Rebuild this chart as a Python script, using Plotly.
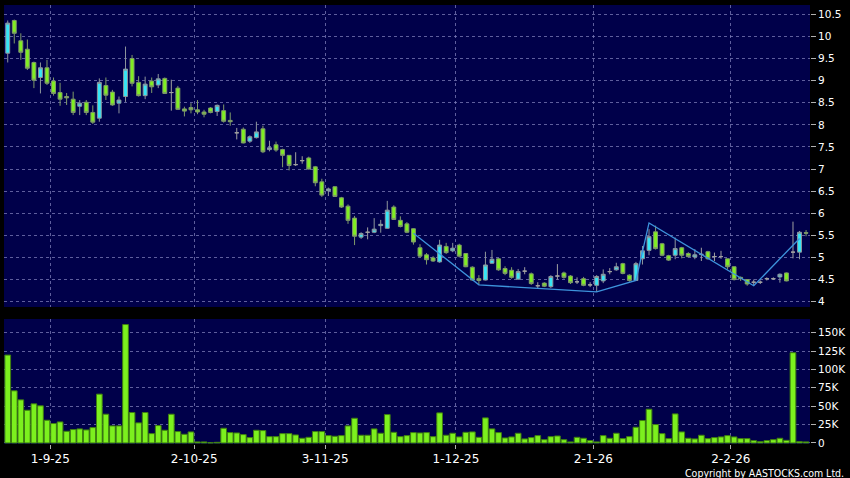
import plotly.graph_objects as go

# ---------------- data ----------------
opens = [9.62, 10.36, 9.90, 9.71, 9.41, 9.07, 9.29, 8.99, 8.73, 8.64,
         8.58, 8.42, 8.51, 8.28, 8.15, 8.89, 8.74, 8.49, 8.64, 9.50,
         8.96, 8.66, 8.99, 8.90, 9.05, 8.73, 8.83, 8.36, 8.39, 8.34,
         8.29, 8.38, 8.30, 8.32, 8.10, 7.82, 7.90, 7.63, 7.71, 7.91,
         7.44, 7.55, 7.44, 7.31, 7.10, 7.19, 7.25, 7.05, 6.71, 6.51,
         6.60, 6.35, 6.16, 5.89, 5.46, 5.57, 5.57, 5.72, 5.66, 6.14,
         5.84, 5.76, 5.65, 5.22, 5.06, 4.99, 4.90, 5.25, 5.15, 5.28,
         5.09, 4.78, 4.52, 4.49, 4.87, 4.97, 4.75, 4.71, 4.51, 4.69,
         4.63, 4.36, 4.42, 4.34, 4.58, 4.65, 4.58, 4.45, 4.52, 4.38,
         4.37, 4.47, 4.68, 4.72, 4.86, 4.60, 4.48, 4.97, 5.16, 5.58,
         5.31, 5.04, 5.05, 5.22, 5.09, 5.01, 5.07, 5.13, 5.02, 5.02,
         4.97, 4.79, 4.55, 4.50, 4.44, 4.44, 4.52, 4.52, 4.56, 4.65,
         5.12, 5.12, 5.56]
highs = [10.36, 10.38, 10.07, 9.93, 9.43, 9.41, 9.47, 9.07, 8.95, 8.72,
         8.75, 8.56, 8.56, 8.44, 9.05, 9.07, 8.79, 8.64, 9.77, 9.58,
         9.10, 9.09, 9.07, 9.15, 9.07, 9.02, 8.88, 8.41, 8.49, 8.56,
         8.34, 8.40, 8.46, 8.46, 8.28, 7.93, 7.94, 7.76, 8.07, 7.98,
         7.64, 7.62, 7.46, 7.31, 7.38, 7.29, 7.28, 7.07, 6.78, 6.58,
         6.61, 6.37, 6.20, 5.94, 5.57, 5.68, 5.89, 5.85, 6.28, 6.18,
         5.93, 5.80, 5.66, 5.30, 5.10, 5.03, 5.40, 5.33, 5.33, 5.31,
         5.09, 4.80, 4.60, 5.13, 5.17, 4.99, 4.80, 4.78, 4.74, 4.78,
         4.66, 4.44, 4.44, 4.60, 4.85, 4.68, 4.60, 4.55, 4.56, 4.44,
         4.60, 4.73, 4.76, 4.88, 4.88, 4.62, 4.90, 5.26, 5.64, 5.72,
         5.33, 5.06, 5.45, 5.24, 5.12, 5.19, 5.22, 5.15, 5.11, 5.15,
         4.97, 4.80, 4.57, 4.50, 4.50, 4.48, 4.55, 4.55, 4.64, 4.66,
         5.81, 5.60, 5.62]
lows = [9.41, 9.84, 9.47, 9.24, 8.83, 8.71, 8.90, 8.66, 8.43, 8.45,
        8.22, 8.22, 8.22, 8.02, 8.07, 8.56, 8.43, 8.26, 8.52, 8.87,
        8.64, 8.58, 8.72, 8.83, 8.70, 8.32, 8.34, 8.19, 8.26, 8.24,
        8.17, 8.26, 8.20, 8.05, 7.98, 7.67, 7.58, 7.59, 7.69, 7.36,
        7.40, 7.39, 7.04, 6.97, 7.07, 7.12, 6.99, 6.61, 6.37, 6.39,
        6.37, 6.12, 5.76, 5.28, 5.42, 5.41, 5.55, 5.56, 5.65, 5.85,
        5.68, 5.55, 5.29, 4.99, 4.84, 4.90, 4.88, 5.08, 5.12, 5.00,
        4.78, 4.47, 4.38, 4.48, 4.86, 4.70, 4.60, 4.52, 4.50, 4.62,
        4.38, 4.30, 4.33, 4.31, 4.50, 4.52, 4.40, 4.40, 4.35, 4.33,
        4.22, 4.42, 4.62, 4.70, 4.62, 4.45, 4.47, 4.84, 5.05, 5.18,
        5.03, 4.92, 4.96, 4.98, 5.00, 4.96, 4.92, 4.95, 4.92, 4.97,
        4.73, 4.48, 4.47, 4.36, 4.36, 4.40, 4.48, 4.49, 4.43, 4.46,
        4.98, 4.96, 5.48]
closes = [10.30, 10.07, 9.64, 9.28, 9.01, 9.29, 8.94, 8.71, 8.58, 8.61,
          8.28, 8.49, 8.28, 8.06, 8.96, 8.67, 8.45, 8.56, 9.26, 8.94,
          8.66, 8.92, 8.86, 9.04, 8.71, 8.73, 8.35, 8.31, 8.34, 8.29,
          8.24, 8.28, 8.44, 8.08, 8.07, 7.82, 7.59, 7.73, 7.84, 7.39,
          7.48, 7.43, 7.31, 7.08, 7.10, 7.19, 7.00, 6.69, 6.41, 6.55,
          6.38, 6.14, 5.84, 5.48, 5.54, 5.57, 5.64, 5.75, 6.07, 5.86,
          5.70, 5.57, 5.35, 5.03, 4.95, 4.92, 5.28, 5.11, 5.21, 5.03,
          4.79, 4.49, 4.48, 4.83, 4.96, 4.72, 4.64, 4.55, 4.68, 4.69,
          4.41, 4.36, 4.35, 4.57, 4.58, 4.55, 4.43, 4.45, 4.37, 4.38,
          4.57, 4.62, 4.68, 4.79, 4.64, 4.48, 4.86, 5.15, 5.47, 5.20,
          5.05, 4.94, 5.20, 5.05, 5.02, 5.06, 5.07, 4.97, 5.02, 5.02,
          4.79, 4.50, 4.52, 4.40, 4.44, 4.44, 4.52, 4.52, 4.62, 4.47,
          5.12, 5.57, 5.55]
volumes = [119500, 70900, 58600, 44500, 53200, 50500, 30900, 26400, 28600, 15900,
           18200, 19100, 17700, 20900, 66400, 39100, 23200, 23200, 161000, 41400,
           27300, 41400, 12700, 23600, 17300, 39100, 15500, 11800, 15000, 1400,
           1400, 300, 900, 20000, 14100, 13600, 11400, 7300, 17300, 16800,
           8600, 8600, 12700, 12700, 10900, 6400, 7700, 15500, 15500, 10000,
           9100, 10000, 23200, 33600, 10500, 10500, 19100, 13200, 38600, 14500,
           8600, 10000, 14100, 13600, 14100, 8600, 40900, 10500, 13200, 8200,
           14500, 15000, 7700, 34100, 19100, 14100, 6800, 8200, 13200, 5500,
           7300, 10000, 4500, 8600, 9500, 4500, 1400, 7700, 6400, 3200,
           1400, 10000, 6400, 13200, 5900, 8600, 21400, 30500, 45900, 25000,
           12700, 5900, 39500, 15000, 6400, 5500, 10500, 5900, 7300, 8200,
           10000, 8200, 5900, 5900, 3200, 1800, 3200, 4500, 6400, 3600,
           122700, 1800, 1400]

# trend (zig-zag) line: trading-day index and price of each vertex
line_idx = [62, 72, 90, 96, 98, 114, 121]
line_val = [5.55, 4.38, 4.22, 4.48, 5.78, 4.36, 5.43]

# month labels and the trading-day index where each month starts
month_labels = ["1-9-25", "2-10-25", "3-11-25", "1-12-25", "2-1-26", "2-2-26"]
month_idx = [6, 28, 48, 68, 89, 110]

price_ticks = [4, 4.5, 5, 5.5, 6, 6.5, 7, 7.5, 8, 8.5, 9, 9.5, 10, 10.5]
vol_ticks = [0, 25000, 50000, 75000, 100000, 125000, 150000]
vol_labels = ["0", "25K", "50K", "75K", "100K", "125K", "150K"]

# ---------------- figure ----------------
n = len(opens)
xs = list(range(n))

UP_FILL = "#35e6f6"
DN_FILL = "#80ee22"
EDGE = "#8e969c"
FLAT = "#a0a0a0"


def subset(cond):
    idx = [i for i in xs if cond(i)]
    return (idx, [opens[i] for i in idx], [highs[i] for i in idx],
            [lows[i] for i in idx], [closes[i] for i in idx])


fig = go.Figure()

for cond, fill, edge in [
    (lambda i: closes[i] > opens[i], UP_FILL, EDGE),
    (lambda i: closes[i] < opens[i], DN_FILL, "#7f9a6a"),
    (lambda i: closes[i] == opens[i], FLAT, FLAT),
]:
    ix, o, h, l, c = subset(cond)
    fig.add_trace(go.Candlestick(
        x=ix, open=o, high=h, low=l, close=c,
        increasing=dict(fillcolor=fill, line=dict(color=edge, width=1)),
        decreasing=dict(fillcolor=fill, line=dict(color=edge, width=1)),
        whiskerwidth=0, hoverinfo="skip", xaxis="x", yaxis="y",
    ))

fig.add_trace(go.Scatter(
    x=line_idx, y=line_val, mode="lines",
    line=dict(color="#3d93dc", width=1.3),
    hoverinfo="skip", xaxis="x", yaxis="y",
))

fig.add_trace(go.Bar(
    x=xs, y=volumes,
    marker=dict(color="#7cf01e", line=dict(color="#3f7f10", width=1)),
    hoverinfo="skip", xaxis="x2", yaxis="y2",
))

x_range = [-0.57, 122.6]
tickpos = [i + 0.5 for i in month_idx]
GRID = "rgba(125,125,185,0.75)"
TICKFONT = dict(family="DejaVu Sans", size=12, color="white")
YFONT = dict(family="DejaVu Sans", size=10.5, color="white")

common_x = dict(range=x_range, showgrid=True, gridcolor=GRID, gridwidth=1,
                griddash="3px,3px", zeroline=False, showline=False,
                tickvals=tickpos, rangeslider=dict(visible=False), fixedrange=True)

fig.update_layout(
    width=850, height=478,
    paper_bgcolor="black", plot_bgcolor="#00004a",
    margin=dict(l=4, r=40, t=5, b=34, autoexpand=False),
    showlegend=False,
    boxgap=0.15, bargap=0.13,
    xaxis=dict(**common_x, anchor="y", domain=[0, 1], showticklabels=False, ticks=""),
    xaxis2=dict(**common_x, anchor="y2", domain=[0, 1], ticktext=month_labels,
                ticks="outside", ticklen=4, tickcolor="#b0b0b0", tickfont=TICKFONT),
    yaxis=dict(domain=[0.3121, 1], range=[3.88, 10.71], side="right",
               tickvals=price_ticks, ticktext=[f"{v:g}" for v in price_ticks],
               showgrid=True, gridcolor=GRID, griddash="3px,3px", zeroline=False,
               ticks="outside", ticklen=5, tickcolor="#b0b0b0", tickfont=YFONT,
               anchor="x", fixedrange=True),
    yaxis2=dict(domain=[0, 0.2847], range=[-1400, 168500], side="right",
                tickvals=vol_ticks, ticktext=vol_labels,
                showgrid=True, gridcolor=GRID, griddash="3px,3px", zeroline=False,
                ticks="outside", ticklen=5, tickcolor="#b0b0b0", tickfont=YFONT,
                anchor="x2", fixedrange=True),
    annotations=[dict(
        text="Copyright by AASTOCKS.com Ltd.", xref="paper", yref="paper",
        x=1.0446, y=-0.067, xanchor="right", yanchor="middle", showarrow=False,
        font=dict(family="DejaVu Sans Condensed, Liberation Sans Narrow, DejaVu Sans",
                  size=10.5, color="white"),
    )],
)

fig.write_html(
    "out.html",
    config={"displayModeBar": False, "staticPlot": True},
    post_script="document.body.style.margin='0';document.body.style.background='black';",
)
